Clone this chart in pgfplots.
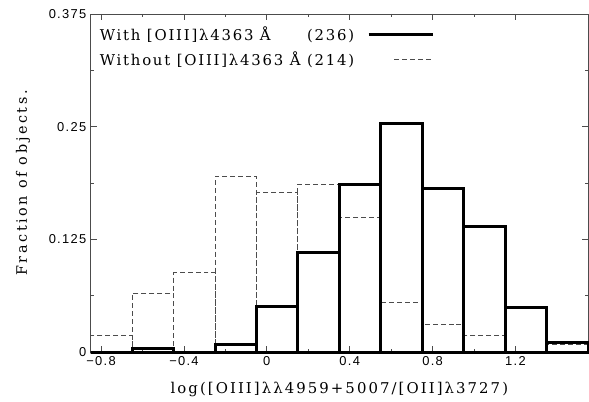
\documentclass[border=0pt]{standalone}
\usepackage{fontspec}
\setmainfont{DejaVu Serif}
\newfontfamily\lgfont[LetterSpace=12]{DejaVu Serif}
\newfontfamily\xlfont[LetterSpace=14]{DejaVu Serif}
\newfontfamily\ylfont[LetterSpace=18]{DejaVu Serif}
\newfontfamily\tkfont[LetterSpace=10]{Liberation Sans}
\usepackage{pgfplots}
\pgfplotsset{compat=1.18}
\pgfplotstableread{
x y
-0.85 0.018
-0.65 0.065
-0.45 0.088
-0.25 0.195
-0.05 0.177
0.15 0.186
0.35 0.1494
0.55 0.055
0.75 0.031
0.95 0.018
1.15 0
1.35 0.008
1.55 0.008
}\without
\pgfplotstableread{
x y
-0.85 0
-0.65 0.004
-0.45 0
-0.25 0.0085
-0.05 0.0505
0.15 0.110
0.35 0.1855
0.55 0.2535
0.75 0.1815
0.95 0.139
1.15 0.0495
1.35 0.0105
1.55 0.0105
}\withtab
\newcommand\lgsize{\lgfont\fontsize{15}{18}\selectfont}
\begin{document}
\newlength\lw
\settowidth\lw{\lgsize Without [OIII]λ4363 Å (214)}
\begin{tikzpicture}
\begin{axis}[
 scale only axis, width=500bp, height=340bp,
 xmin=-0.85, xmax=1.55, ymin=0, ymax=0.375,
 xtick={-0.8,-0.4,0,0.4,0.8,1.2},
 xticklabels={−0.8,−0.4,0,0.4,0.8,1.2},
 minor x tick num=1,
 ytick={0,0.125,0.25,0.375},
 yticklabels={0,0.125,0.25,0.375},
 minor y tick num=1,
 tick align=inside,
 major tick length=6bp, minor tick length=3.5bp,
 axis line style={black!70, line width=0.8bp},
 every tick/.style={black!70, line width=0.8bp},
 tick label style={font=\tkfont\fontsize{13}{15}\selectfont},
 xticklabel style={yshift=-1bp},
 yticklabel style={xshift=-1bp},
 xlabel={log([OIII]λλ4959+5007/[OII]λ3727)},
 every axis x label/.style={at={(axis description cs:0.5,-0.11)}, anchor=center, font=\xlfont\fontsize{15}{18}\selectfont},
 ylabel={Fraction of objects.},
 every axis y label/.style={at={(axis description cs:-0.136,0.5)}, rotate=90, anchor=center, font=\ylfont\fontsize{14.5}{17}\selectfont},
 clip=false,
 legend style={draw=none, fill=none, at={(axis description cs:0.008,0.975)}, anchor=north west, font=\lgsize, row sep=6bp, column sep=11bp},
 legend cell align=left,
 legend plot pos=right,
]
\addplot[ybar interval, draw=black!70, line width=0.8bp, dash pattern=on 5bp off 3bp, fill=none, forget plot] table[x=x,y=y]{\without};
\addplot[ybar interval, draw=black, line width=3bp, fill=none, forget plot] table[x=x,y=y]{\withtab};
\addlegendimage{legend image code/.code={\draw[line width=3bp] (0bp,0bp) -- (65bp,0bp);}}
\addlegendentry{\makebox[\lw][l]{With [OIII]λ4363 Å\hfill(236)}}
\addlegendimage{legend image code/.code={\path[draw=none] (0bp,0bp) -- (26bp,0bp); \draw[black!70, line width=0.8bp, dash pattern=on 5bp off 3bp] (26bp,0bp) -- (65bp,0bp);}}
\addlegendentry{\makebox[\lw][l]{Without [OIII]λ4363 Å (214)}}
\end{axis}
\pgfresetboundingbox
\path ([shift={(-88bp,-50bp)}]current axis.south west) rectangle ([shift={(1bp,14bp)}]current axis.north east);
\end{tikzpicture}
\end{document}
